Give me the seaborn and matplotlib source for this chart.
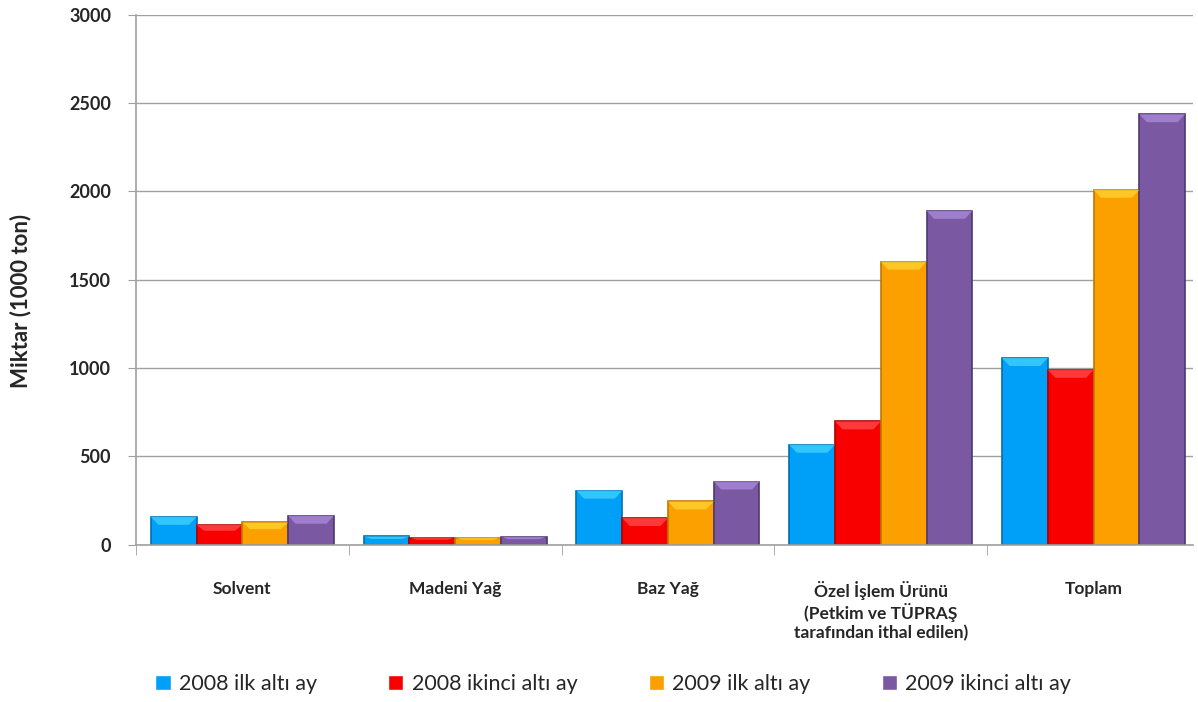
import pandas as pd
import seaborn as sns
import matplotlib.pyplot as plt
from matplotlib.ticker import FixedLocator
from matplotlib.patches import Polygon

categories = ['Solvent', 'Madeni Yağ', 'Baz Yağ',
              'Özel İşlem Ürünü\n(Petkim ve TÜPRAŞ\ntarafından ithal edilen)', 'Toplam']
periods = ['2008 ilk altı ay', '2008 ikinci altı ay', '2009 ilk altı ay', '2009 ikinci altı ay']
v_2008_1 = [158, 47, 306, 566, 1057]
v_2008_2 = [113, 41, 151, 698, 990]
v_2009_1 = [126, 40, 245, 1602, 2009]
v_2009_2 = [164, 45, 358, 1890, 2437]

colors = ['#00A0F8', '#F80000', '#FCA000', '#7A58A2']
edges = ['#0070B0', '#B00000', '#C07800', '#4E3870']
tops = ['#40D0FF', '#FF4848', '#FFD030', '#A888D8']

df = pd.DataFrame({
    'kategori': categories * 4,
    'donem': sum([[p] * 5 for p in periods], []),
    'miktar': v_2008_1 + v_2008_2 + v_2009_1 + v_2009_2,
})

sns.set_style('white')
plt.rcParams['font.family'] = ['Lato', 'DejaVu Sans']

fig = plt.figure(figsize=(11.98, 7.02), dpi=100)
ax = fig.add_axes([0.1135, 0.224, 0.8823, 0.755])

sns.barplot(data=df, x='kategori', y='miktar', hue='donem', palette=colors,
            width=0.86, gap=0, ax=ax, legend=True, saturation=1)

# darker borders + light bevel on top of each bar
for cont, ec, tc in zip(ax.containers, edges, tops):
    for bar in cont:
        bar.set_edgecolor(ec)
        bar.set_linewidth(1.2)
        x0 = bar.get_x()
        w = bar.get_width()
        h = bar.get_height()
        bh = min(45, h * 0.3)
        d = 0.035
        bev = Polygon([(x0, h), (x0 + w, h), (x0 + w - d, h - bh), (x0 + d, h - bh)],
                      closed=True, facecolor=tc, edgecolor='none', alpha=0.8, zorder=bar.get_zorder() + 0.1)
        ax.add_patch(bev)

ax.set_ylim(0, 3000)
ax.set_xlim(-0.5, 4.467)
ax.set_yticks(range(0, 3001, 500))
ax.yaxis.grid(True, color='#a0a0a0', linewidth=1)
ax.set_axisbelow(True)
for s in ['top', 'right']:
    ax.spines[s].set_visible(False)
for s in ['left', 'bottom']:
    ax.spines[s].set_color('#a0a0a0')
    ax.spines[s].set_linewidth(1.2)

ax.tick_params(axis='y', left=True, length=6, color='#a0a0a0', labelsize=13, pad=12)
for t in ax.get_yticklabels():
    t.set_fontweight('bold')
ax.tick_params(axis='x', which='major', length=0, labelsize=12.5, pad=26)
for t in ax.get_xticklabels():
    t.set_fontweight('bold')
ax.xaxis.set_minor_locator(FixedLocator([-0.5, 0.5, 1.5, 2.5, 3.5]))
ax.tick_params(axis='x', which='minor', bottom=True, length=7, color='#a0a0a0')

ax.set_xlabel('')
ax.set_ylabel('Miktar (1000 ton)', fontsize=16, fontweight='bold')
ax.yaxis.set_label_coords(-0.099, 0.46)

handles, labels = ax.get_legend_handles_labels()
ax.get_legend().remove()
fig.legend(handles, labels, loc='center', bbox_to_anchor=(0.512, 0.025), ncol=4,
           frameon=False, fontsize=15.5, handlelength=0.7, handleheight=0.7,
           handletextpad=0.4, columnspacing=3.3)

fig.savefig('out.png', dpi=100)
